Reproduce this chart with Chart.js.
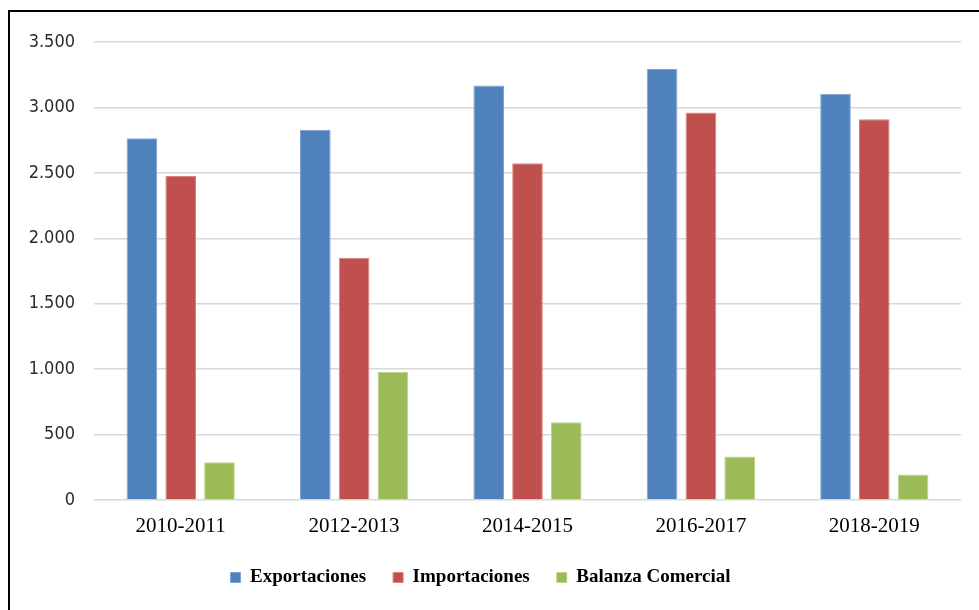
<!DOCTYPE html>
<html>
<head>
<meta charset="utf-8">
<script src="https://cdn.jsdelivr.net/npm/chart.js@4/dist/chart.umd.min.js"></script>
<style>
  html, body { margin: 0; padding: 0; background: #fff; overflow: hidden; }
  #wrap { position: relative; width: 979px; height: 610px; }
  #frame { position: absolute; left: 8px; top: 10px; width: 1200px; height: 800px;
           border-left: 2px solid #000; border-top: 2px solid #000; box-sizing: border-box; }
  canvas { position: absolute; left: 0; top: 0; }
</style>
</head>
<body>
<div id="wrap">
  <div id="frame"></div>
  <canvas id="c" width="979" height="610"></canvas>
</div>
<script>
const categories = ["2010-2011", "2012-2013", "2014-2015", "2016-2017", "2018-2019"];
const exportaciones = [2765, 2830, 3168, 3293, 3104];
const importaciones = [2476, 1851, 2573, 2961, 2910];
const balanza = [289, 979, 595, 332, 194];
const seriesNames = ["Exportaciones", "Importaciones", "Balanza Comercial"];

function fmt(v) {
  return String(v).replace(/\B(?=(\d{3})+(?!\d))/g, ".");
}

new Chart(document.getElementById("c"), {
  type: "bar",
  data: {
    labels: categories,
    datasets: [
      { label: seriesNames[0], data: exportaciones, backgroundColor: "#4F81BD", borderColor: "#7FA3D3", borderWidth: 1 },
      { label: seriesNames[1], data: importaciones, backgroundColor: "#C0504D", borderColor: "#D98482", borderWidth: 1 },
      { label: seriesNames[2], data: balanza, backgroundColor: "#9BBB59", borderColor: "#BDD38F", borderWidth: 1 }
    ]
  },
  options: {
    responsive: false,
    animation: false,
    devicePixelRatio: 1,
    layout: { padding: { left: 0, right: 18, top: 42, bottom: 13 } },
    datasets: { bar: { categoryPercentage: 0.671, barPercentage: 0.79 } },
    plugins: {
      tooltip: { enabled: false },
      legend: {
        position: "bottom",
        labels: {
          boxWidth: 10, boxHeight: 10, padding: 27,
          color: "#000",
          font: { family: "'Liberation Serif', serif", size: 19, weight: "bold" }
        }
      }
    },
    scales: {
      x: {
        grid: { display: false, drawTicks: false },
        border: { display: false },
        ticks: { padding: 14, color: "#000", font: { family: "'Liberation Serif', serif", size: 21 } },
        afterFit: (s) => { s.height = 41; }
      },
      y: {
        min: 0, max: 3500,
        grid: { color: "#D9D9D9", lineWidth: 1.5, drawTicks: false },
        border: { display: false },
        ticks: {
          stepSize: 500, padding: 19, color: "#2b2b2b",
          font: { family: "'DejaVu Sans Condensed', 'DejaVu Sans', sans-serif", size: 18 },
          callback: (v) => fmt(v)
        },
        afterFit: (s) => { s.width = 94; }
      }
    }
  }
});
</script>
</body>
</html>
